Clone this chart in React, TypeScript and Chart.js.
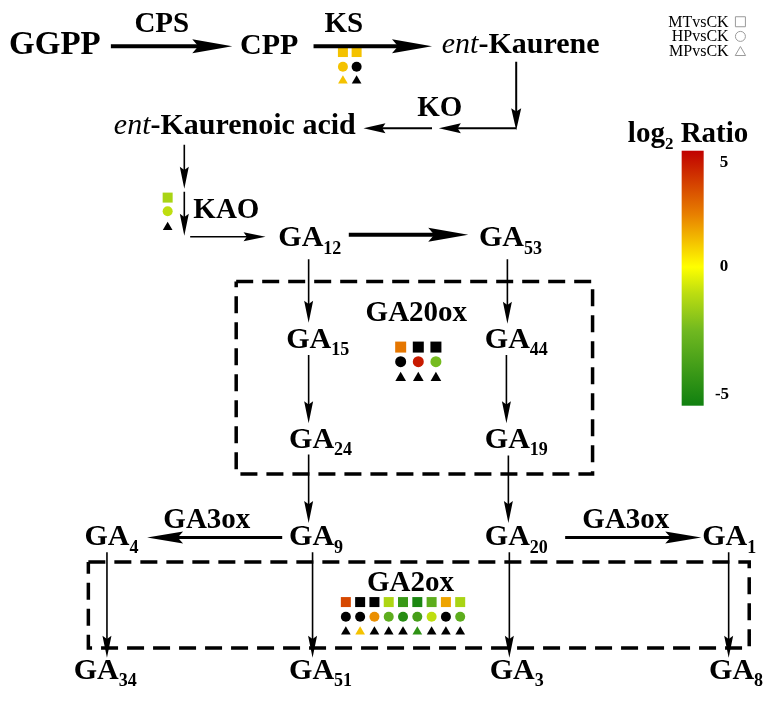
import React, { useEffect, useRef } from 'react';
import { Chart, registerables } from 'chart.js';

Chart.register(...registerables);

// ---------- pathway nodes (metabolites) ----------
const NODE_NAMES = ['GGPP', 'CPP', 'ent-Kaurene', 'ent-Kaurenoic acid', 'GA12', 'GA53', 'GA15', 'GA44', 'GA24', 'GA19', 'GA9', 'GA20', 'GA4', 'GA1', 'GA34', 'GA51', 'GA3', 'GA8'];
const NODE_X = [1, 237, 443, 108, 276, 481, 284, 487, 287, 487, 287, 487, 78, 709, 67, 287, 492, 716];
const NODE_Y = [47, 47, 46, 129, 244, 244, 348, 348, 450, 450, 550, 550, 550, 550, 687, 687, 687, 687];
const NODE_SIZE = [33, 30, 30, 30, 30, 30, 30, 30, 30, 30, 30, 30, 30, 30, 30, 30, 30, 30];

// ---------- enzymes ----------
const ENZYME_NAMES = ['CPS', 'KS', 'KO', 'KAO', 'GA20ox', 'GA3ox', 'GA3ox', 'GA2ox'];
const ENZYME_X = [157, 343, 441, 223, 417, 203, 631, 411];
const ENZYME_Y = [25, 25, 110, 215, 320, 532, 532, 597];

// ---------- reactions (arrows): x1, y1, x2, y2, style ----------
const ARROWS: [number, number, number, number, string][] = [
  [105, 39, 229, 39, 'bold'],
  [312, 39, 433, 39, 'bold'],
  [519, 55, 519, 125, 'ko'],
  [519, 123, 440, 123, 'ko'],
  [433, 123, 363, 123, 'ko'],
  [180, 140, 180, 185, 'thin'],
  [180, 188, 180, 233, 'thin'],
  [186, 234, 263, 234, 'thin'],
  [348, 232, 470, 232, 'bold'],
  [307, 257, 307, 322, 'thin'],
  [510, 257, 510, 323, 'thin'],
  [307, 355, 307, 425, 'thin'],
  [509, 355, 509, 425, 'thin'],
  [307, 457, 307, 527, 'thin'],
  [511, 458, 511, 527, 'thin'],
  [280, 542, 142, 542, 'mid'],
  [569, 542, 708, 542, 'mid'],
  [101, 557, 101, 665, 'thin'],
  [311, 557, 311, 665, 'thin'],
  [512, 557, 512, 665, 'thin'],
  [736, 557, 736, 665, 'thin'],
];

// dashed enzyme boxes: left, top, right, bottom
const BOXES: [number, number, number, number][] = [
  [233, 280, 597, 477],
  [82, 567, 757, 655],
];

// ---------- log2 ratios (null = black, not significant) ----------
const KS_MT = [1.2, 1.2];
const KS_HP = [1.2, null];
const KS_MP = [1.2, null];
const KAO_MT = [-1.4];
const KAO_HP = [-1.0];
const KAO_MP = [null];
const GA20OX_MT = [2.7, null, null];
const GA20OX_HP = [null, 4.5, -2.4];
const GA20OX_MP = [null, null, null];
const GA2OX_MT = [3.6, null, null, -1.3, -3.9, -4.7, -3.0, 1.8, -1.4];
const GA2OX_HP = [null, null, 2.2, -3.0, -4.4, -3.6, -1.0, null, -3.0];
const GA2OX_MP = [null, 1.2, null, null, null, -4.2, null, null, null];

const LEGEND_LABELS = ['MTvsCK', 'HPvsCK', 'MPvsCK'];
const COLORBAR_TICKS = [5, 0, -5];

// ---------- styles ----------
const FONT = '"Liberation Serif", "Times New Roman", serif';
const ARROW_STYLES: Record<string, { lw: number; len: number; hw: number }> = {
  bold: { lw: 4, len: 40, hw: 7 },
  mid: { lw: 3, len: 36, hw: 6 },
  ko: { lw: 2, len: 22, hw: 5 },
  thin: { lw: 1.6, len: 22, hw: 4.5 },
};
const COLOR_STOPS: [number, [number, number, number]][] = [
  [-5, [16, 128, 16]],
  [-2.5, [112, 184, 32]],
  [-1, [190, 222, 16]],
  [0, [255, 255, 0]],
  [2.5, [232, 128, 0]],
  [5, [192, 0, 0]],
];
const CB = { x: 688, w: 22, top: 146, bottom: 407, yTop: 158, yZero: 265, yBot: 396 };

function ratioColor(v: number | null): string {
  if (v === null) return '#000000';
  const c = Math.max(-5, Math.min(5, v));
  for (let i = 0; i < COLOR_STOPS.length - 1; i++) {
    const [a, ca] = COLOR_STOPS[i];
    const [b, cb] = COLOR_STOPS[i + 1];
    if (c >= a && c <= b) {
      const t = (c - a) / (b - a);
      const m = ca.map((q, k) => Math.round(q + (cb[k] - q) * t));
      return `rgb(${m[0]},${m[1]},${m[2]})`;
    }
  }
  return '#000';
}

const GROUPS = [
  { vals: [KS_MT, KS_HP, KS_MP], x0: 342, dx: 14, rows: [45, 60, 73], size: 10 },
  { vals: [KAO_MT, KAO_HP, KAO_MP], x0: 163, dx: 0, rows: [194, 208, 223], size: 10 },
  { vals: [GA20OX_MT, GA20OX_HP, GA20OX_MP], x0: 401, dx: 18, rows: [347, 362, 377], size: 11 },
  { vals: [GA2OX_MT, GA2OX_HP, GA2OX_MP], x0: 345, dx: 14.6, rows: [608, 623, 637], size: 10 },
];

function labelParts(name: string): { t: string; sub?: boolean; it?: boolean }[] {
  const m = name.match(/^GA(\d+)$/);
  if (m) return [{ t: 'GA' }, { t: m[1], sub: true }];
  if (name.startsWith('ent-')) return [{ t: 'ent', it: true }, { t: '-' + name.slice(4) }];
  return [{ t: name }];
}

function fontFor(p: { sub?: boolean; it?: boolean }, size: number) {
  if (p.sub) return `bold ${Math.round(size * 0.6)}px ${FONT}`;
  if (p.it) return `italic ${size}px ${FONT}`;
  return `bold ${size}px ${FONT}`;
}

function drawParts(ctx: CanvasRenderingContext2D, parts: { t: string; sub?: boolean; it?: boolean }[], x: number, y: number, size: number, align: 'left' | 'center') {
  let total = 0;
  parts.forEach((p) => {
    ctx.font = fontFor(p, size);
    total += ctx.measureText(p.t).width;
  });
  let cx = align === 'center' ? x - total / 2 : x;
  ctx.textAlign = 'left';
  ctx.textBaseline = 'alphabetic';
  parts.forEach((p) => {
    ctx.font = fontFor(p, size);
    ctx.fillText(p.t, cx, p.sub ? y + size * 0.24 : y);
    cx += ctx.measureText(p.t).width;
  });
}

const overlay = {
  id: 'overlay',
  beforeDatasetsDraw(chart: any) {
    const { ctx, scales } = chart;
    const px = (v: number) => scales.x.getPixelForValue(v);
    const py = (v: number) => scales.y.getPixelForValue(v);
    const valY = (v: number) => (v >= 0 ? CB.yZero - (v / 5) * (CB.yZero - CB.yTop) : CB.yZero + (-v / 5) * (CB.yBot - CB.yZero));
    const top = py(CB.top), bot = py(CB.bottom);
    const g = ctx.createLinearGradient(0, top, 0, bot);
    COLOR_STOPS.forEach(([v]) => {
      const yy = v === 5 ? CB.top : v === -5 ? CB.bottom : valY(v);
      g.addColorStop(Math.max(0, Math.min(1, (py(yy) - top) / (bot - top))), ratioColor(v));
    });
    ctx.save();
    ctx.fillStyle = g;
    ctx.fillRect(px(CB.x), top, CB.w, bot - top);
    ctx.restore();
  },
  afterDatasetsDraw(chart: any) {
    const { ctx, scales } = chart;
    const px = (v: number) => scales.x.getPixelForValue(v);
    const py = (v: number) => scales.y.getPixelForValue(v);
    ctx.save();
    ctx.fillStyle = '#000';
    ARROWS.forEach(([x1, y1, x2, y2, s]) => {
      const st = ARROW_STYLES[s];
      const X1 = px(x1), Y1 = py(y1), X2 = px(x2), Y2 = py(y2);
      const a = Math.atan2(Y2 - Y1, X2 - X1);
      const bx = X2 - st.len * Math.cos(a), by = Y2 - st.len * Math.sin(a);
      ctx.beginPath();
      ctx.moveTo(X2, Y2);
      ctx.lineTo(bx + st.hw * Math.sin(a), by - st.hw * Math.cos(a));
      ctx.lineTo(X2 - st.len * 0.85 * Math.cos(a), Y2 - st.len * 0.85 * Math.sin(a));
      ctx.lineTo(bx - st.hw * Math.sin(a), by + st.hw * Math.cos(a));
      ctx.closePath();
      ctx.fill();
    });
    NODE_NAMES.forEach((n, i) => drawParts(ctx, labelParts(n), px(NODE_X[i]), py(NODE_Y[i]), NODE_SIZE[i], 'left'));
    ENZYME_NAMES.forEach((n, i) => drawParts(ctx, [{ t: n }], px(ENZYME_X[i]), py(ENZYME_Y[i]), 29, 'center'));
    ctx.font = `16px ${FONT}`;
    ctx.textAlign = 'right';
    LEGEND_LABELS.forEach((l, i) => ctx.fillText(l, px(736), py(19 + i * 15)));
    drawParts(ctx, [{ t: 'log' }, { t: '2', sub: true }, { t: ' Ratio' }], px(633), py(137), 29, 'left');
    const valY = (v: number) => (v >= 0 ? CB.yZero - (v / 5) * (CB.yZero - CB.yTop) : CB.yZero + (-v / 5) * (CB.yBot - CB.yZero));
    ctx.font = `bold 17px ${FONT}`;
    ctx.textAlign = 'left';
    ctx.textBaseline = 'middle';
    COLORBAR_TICKS.forEach((v) => ctx.fillText(String(v), px(v < 0 ? 722 : 727), py(valY(v))));
    ctx.restore();
  },
};

export default function App() {
  const ref = useRef<HTMLCanvasElement>(null);
  useEffect(() => {
    if (!ref.current) return;
    const datasets: any[] = [];
    BOXES.forEach(([l, t, r, b]) => {
      datasets.push({
        data: [{ x: l, y: t }, { x: r, y: t }, { x: r, y: b }, { x: l, y: b }, { x: l, y: t }],
        showLine: true, borderColor: '#000', borderWidth: 3.5, borderDash: [17, 9],
        pointRadius: 0, fill: false, tension: 0,
      });
    });
    ARROWS.forEach(([x1, y1, x2, y2, s]) => {
      const st = ARROW_STYLES[s];
      const L = Math.hypot(x2 - x1, y2 - y1);
      const k = (L - st.len * 0.7) / L;
      datasets.push({
        data: [{ x: x1, y: y1 }, { x: x1 + (x2 - x1) * k, y: y1 + (y2 - y1) * k }],
        showLine: true, borderColor: '#000', borderWidth: st.lw, pointRadius: 0, fill: false,
        borderCapStyle: 'butt',
      });
    });
    const styles = ['rect', 'circle', 'triangle'];
    GROUPS.forEach((g) => {
      g.vals.forEach((vals, r) => {
        const ps = styles[r];
        const radius = ps === 'rect' ? g.size / Math.SQRT2 : ps === 'circle' ? g.size / 2 : g.size * 0.56;
        datasets.push({
          data: vals.map((_, i) => ({ x: g.x0 + i * g.dx, y: g.rows[r] + (ps === 'triangle' ? radius * 0.25 : 0) })),
          showLine: false,
          pointStyle: ps,
          pointRadius: radius,
          pointBackgroundColor: vals.map((v) => ratioColor(v as any)),
          pointBorderWidth: 0,
          pointBorderColor: 'rgba(0,0,0,0)',
        });
      });
    });
    styles.forEach((ps, r) => {
      const radius = ps === 'rect' ? 10 / Math.SQRT2 : ps === 'circle' ? 5 : 6;
      datasets.push({
        data: [{ x: 748, y: 14 + r * 15 + (ps === 'triangle' ? 1.5 : 0) }],
        showLine: false, pointStyle: ps, pointRadius: radius,
        pointBackgroundColor: 'rgba(0,0,0,0)', pointBorderColor: '#9a9a9a', pointBorderWidth: 1,
      });
    });

    const chart = new Chart(ref.current, {
      type: 'scatter',
      data: { datasets },
      options: {
        animation: false,
        responsive: false,
        devicePixelRatio: 1,
        events: [],
        layout: { padding: 0 },
        plugins: { legend: { display: false }, tooltip: { enabled: false } },
        scales: {
          x: { type: 'linear', min: 0, max: 771, display: false },
          y: { type: 'linear', min: 0, max: 701, reverse: true, display: false },
        },
      },
      plugins: [overlay],
    } as any);
    return () => chart.destroy();
  }, []);
  return (
    <div style={{ position: 'absolute', left: 0, top: 0, width: 771, height: 701, background: '#fff' }}>
      <canvas ref={ref} width={771} height={701} style={{ display: 'block' }} />
    </div>
  );
}
